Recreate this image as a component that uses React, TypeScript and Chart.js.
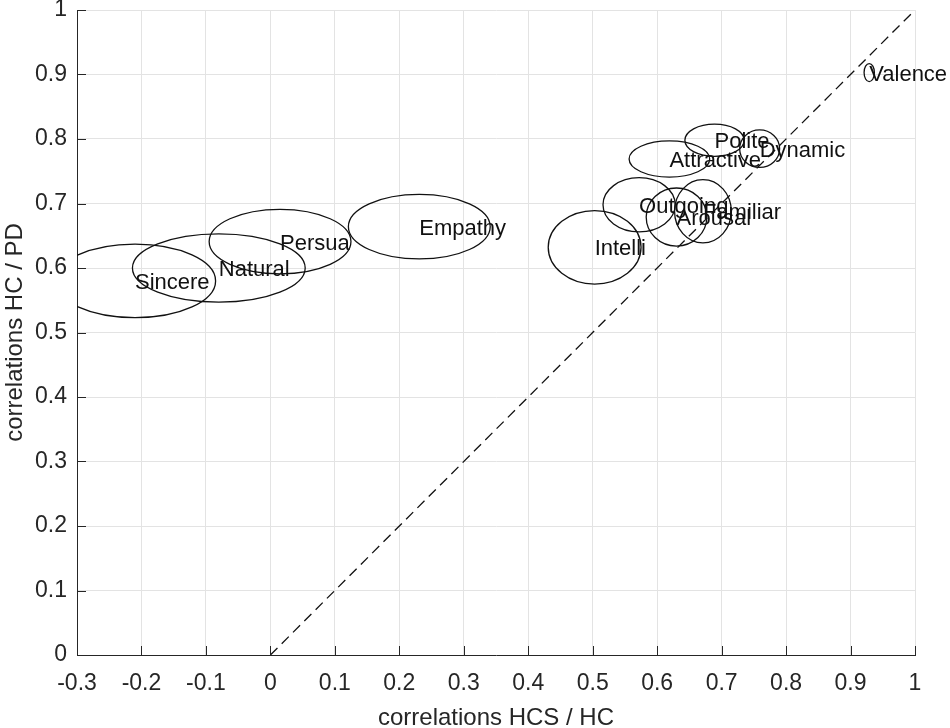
import React, { useEffect, useRef } from "react";
import { Chart, registerables, Plugin } from "chart.js";

Chart.register(...registerables);

// traits, ellipse centres (x = HCS/HC, y = HC/PD) and half-widths
const traits = [
  "Sincere", "Natural", "Persua", "Empathy", "Intelli", "Outgoing",
  "Arousal", "Familiar", "Attractive", "Polite", "Dynamic", "Valence",
];
const centerX = [-0.21, -0.08, 0.015, 0.231, 0.503, 0.572, 0.63, 0.671, 0.619, 0.689, 0.759, 0.929];
const centerY = [0.58, 0.6, 0.641, 0.664, 0.632, 0.698, 0.679, 0.688, 0.769, 0.798, 0.785, 0.903];
const radiusX = [0.125, 0.134, 0.11, 0.11, 0.072, 0.056, 0.047, 0.044, 0.0625, 0.046, 0.031, 0.008];
const radiusY = [0.057, 0.053, 0.05, 0.05, 0.057, 0.042, 0.045, 0.049, 0.028, 0.025, 0.029, 0.014];

const xTicks = [-0.3, -0.2, -0.1, 0, 0.1, 0.2, 0.3, 0.4, 0.5, 0.6, 0.7, 0.8, 0.9, 1];
const yTicks = [0, 0.1, 0.2, 0.3, 0.4, 0.5, 0.6, 0.7, 0.8, 0.9, 1];
const diagonal = [
  { x: 0, y: 0 },
  { x: 1, y: 1 },
];

const FONT = "'Liberation Sans', Arial, Helvetica, sans-serif";
const AXIS = "#262626";

const fmt = (v: number) => Number(v.toFixed(1)).toString();

const ellipsePlugin: Plugin<"scatter"> = {
  id: "ellipses",
  afterDatasetsDraw(chart) {
    const { ctx, chartArea, scales } = chart;
    const xs = scales.x;
    const ys = scales.y;
    ctx.save();
    ctx.beginPath();
    ctx.rect(chartArea.left, chartArea.top, chartArea.right - chartArea.left, chartArea.bottom - chartArea.top);
    ctx.clip();
    ctx.strokeStyle = "#111";
    ctx.lineWidth = 1.3;
    traits.forEach((_, i) => {
      const cx = xs.getPixelForValue(centerX[i]);
      const cy = ys.getPixelForValue(centerY[i]);
      const rx = Math.abs(xs.getPixelForValue(centerX[i] + radiusX[i]) - cx);
      const ry = Math.abs(ys.getPixelForValue(centerY[i] + radiusY[i]) - cy);
      ctx.beginPath();
      ctx.ellipse(cx, cy, rx, ry, 0, 0, Math.PI * 2);
      ctx.stroke();
    });
    ctx.restore();

    ctx.save();
    ctx.font = `22px ${FONT}`;
    ctx.fillStyle = "#111";
    ctx.textAlign = "left";
    ctx.textBaseline = "middle";
    traits.forEach((name, i) => {
      ctx.fillText(name, xs.getPixelForValue(centerX[i]), ys.getPixelForValue(centerY[i]) + 2);
    });
    ctx.restore();
  },
  afterDraw(chart) {
    // inward tick marks, matlab style
    const { ctx, chartArea, scales } = chart;
    ctx.save();
    ctx.strokeStyle = AXIS;
    ctx.lineWidth = 1;
    ctx.beginPath();
    xTicks.forEach((v) => {
      const px = Math.round(scales.x.getPixelForValue(v)) + 0.5;
      ctx.moveTo(px, chartArea.bottom);
      ctx.lineTo(px, chartArea.bottom - 9);
    });
    yTicks.forEach((v) => {
      const py = Math.round(scales.y.getPixelForValue(v)) + 0.5;
      ctx.moveTo(chartArea.left, py);
      ctx.lineTo(chartArea.left + 9, py);
    });
    ctx.stroke();
    ctx.restore();
  },
};

const App: React.FC = () => {
  const canvasRef = useRef<HTMLCanvasElement | null>(null);

  useEffect(() => {
    document.body.style.margin = "0";
    const ctx = canvasRef.current?.getContext("2d");
    if (!ctx) return;
    const chart = new Chart(ctx, {
      type: "scatter",
      data: {
        datasets: [
          {
            data: diagonal,
            showLine: true,
            borderColor: "#111",
            borderWidth: 1.3,
            borderDash: [10, 6],
            pointRadius: 0,
          },
        ],
      },
      options: {
        responsive: false,
        animation: false,
        layout: { padding: { left: 0, top: 10, right: 35, bottom: 0 } },
        plugins: {
          legend: { display: false },
          tooltip: { enabled: false },
        },
        scales: {
          x: {
            type: "linear",
            min: -0.3,
            max: 1,
            afterBuildTicks: (scale) => {
              scale.ticks = xTicks.map((value) => ({ value }));
            },
            afterFit: (scale) => {
              scale.height = 73;
              scale.paddingLeft = 0;
              scale.paddingRight = 0;
            },
            grid: { color: "#e3e3e3", drawTicks: false },
            border: { color: AXIS, width: 1 },
            ticks: {
              color: AXIS,
              padding: 15,
              maxRotation: 0,
              autoSkip: false,
              font: { family: FONT, size: 23 },
              callback: (v) => fmt(Number(v)),
            },
            title: {
              display: true,
              text: "correlations HCS / HC",
              color: AXIS,
              padding: { top: 0, bottom: -2 },
              font: { family: FONT, size: 24, lineHeight: 1 },
            },
          },
          y: {
            type: "linear",
            min: 0,
            max: 1,
            afterBuildTicks: (scale) => {
              scale.ticks = yTicks.map((value) => ({ value }));
            },
            afterFit: (scale) => {
              scale.width = 77;
              scale.paddingTop = 0;
              scale.paddingBottom = 0;
            },
            grid: { color: "#e3e3e3", drawTicks: false },
            border: { color: AXIS, width: 1 },
            ticks: {
              color: AXIS,
              padding: 10,
              autoSkip: false,
              font: { family: FONT, size: 23 },
              callback: (v) => fmt(Number(v)),
            },
            title: {
              display: true,
              text: "correlations HC / PD",
              color: AXIS,
              padding: { top: 3, bottom: 0 },
              font: { family: FONT, size: 24, lineHeight: 1 },
            },
          },
        },
      },
      plugins: [ellipsePlugin],
    });
    return () => {
      chart.destroy();
    };
  }, []);

  return (
    <div style={{ width: "950px", height: "728px" }}>
      <canvas ref={canvasRef} width={950} height={728} />
    </div>
  );
};

export default App;
